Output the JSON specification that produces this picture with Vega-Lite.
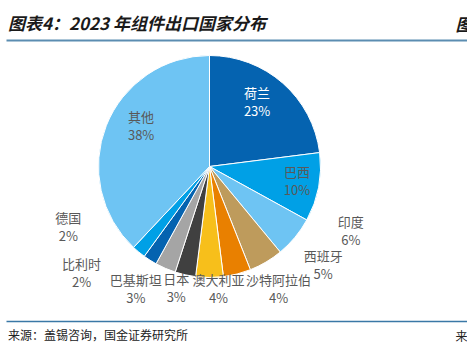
{
  "$schema": "https://vega.github.io/schema/vega-lite/v6.json",
  "padding": {"left": 6, "top": 0, "right": 0, "bottom": 0},
  "autosize": {"type": "pad"},
  "bounds": "flush",
  "spacing": 0,
  "config": {"view": {"stroke": null}, "font": "Noto Sans CJK SC"},
  "vconcat": [
    {
      "width": 461,
      "height": 40,
      "data": {"values": [{"a": 0.5}]},
      "mark": {"type": "point", "opacity": 0, "size": 0, "strokeWidth": 0},
      "encoding": {
        "x": {
          "field": "a", "type": "quantitative",
          "scale": {"domain": [0, 1], "nice": false},
          "axis": {
            "orient": "bottom", "domainColor": "#5B8DB1", "domainWidth": 2,
            "ticks": false, "labels": false, "grid": false,
            "title": "图", "titleX": 449, "titleY": -10, "titleAlign": "left",
            "titleBaseline": "alphabetic", "titleFont": "Noto Sans CJK SC",
            "titleFontSize": 17, "titleFontStyle": "italic", "titleFontWeight": "bold",
            "titleColor": "#1a1a1a"
          }
        }
      },
      "title": {
        "text": "图表4：2023 年组件出口国家分布",
        "orient": "top", "anchor": "start", "offset": -30, "dx": 2, "dy": 17,
        "baseline": "alphabetic", "font": "Noto Sans CJK SC", "fontSize": 17,
        "fontStyle": "italic", "fontWeight": "bold", "color": "#1a1a1a"
      }
    },
    {
      "width": 407,
      "height": 253,
      "data": {"values": [
        {"name": "荷兰", "value": 23},
        {"name": "巴西", "value": 10},
        {"name": "印度", "value": 6},
        {"name": "西班牙", "value": 5},
        {"name": "沙特阿拉伯", "value": 4},
        {"name": "澳大利亚", "value": 4},
        {"name": "日本", "value": 3},
        {"name": "巴基斯坦", "value": 3},
        {"name": "比利时", "value": 2},
        {"name": "德国", "value": 2},
        {"name": "其他", "value": 38}
      ]},
      "transform": [
        {"window": [{"op": "row_number", "as": "idx"}]},
        {"stack": "value", "groupby": [], "sort": [{"field": "idx", "order": "ascending"}], "as": ["v0", "v1"]},
        {"calculate": "(datum.v0 + datum.v1) / 2", "as": "mid"},
        {"calculate": "datum.name + '\\n' + datum.value + '%'", "as": "label"}
      ],
      "layer": [
        {
          "mark": {"type": "arc", "outerRadius": 111, "stroke": "white", "strokeWidth": 1},
          "encoding": {
            "theta": {"field": "v0", "type": "quantitative", "stack": null, "scale": {"domain": [0, 100]}},
            "theta2": {"field": "v1"},
            "color": {
              "field": "name", "type": "nominal", "legend": null,
              "scale": {
                "domain": ["荷兰", "巴西", "印度", "西班牙", "沙特阿拉伯", "澳大利亚", "日本", "巴基斯坦", "比利时", "德国", "其他"],
                "range": ["#0563B0", "#00A0E6", "#6EC4F3", "#BE9B5C", "#E98000", "#F7BF1B", "#404040", "#A5A5A5", "#0563B0", "#00A0E6", "#6EC4F3"]
              }
            }
          }
        },
        {
          "transform": [{"filter": "datum.name == '荷兰'"}],
          "mark": {"type": "text", "radius": 78, "dx": -4, "dy": -13.5, "color": "white", "fontSize": 13, "baseline": "middle", "lineBreak": "\n", "lineHeight": 18},
          "encoding": {"theta": {"field": "mid", "type": "quantitative", "stack": null, "scale": {"domain": [0, 100]}}, "text": {"field": "label"}}
        },
        {
          "transform": [{"filter": "datum.name == '巴西'"}],
          "mark": {"type": "text", "radius": 89, "dx": 0, "dy": -10, "color": "#595959", "fontSize": 13, "baseline": "middle", "lineBreak": "\n", "lineHeight": 18},
          "encoding": {"theta": {"field": "mid", "type": "quantitative", "stack": null, "scale": {"domain": [0, 100]}}, "text": {"field": "label"}}
        },
        {
          "transform": [{"filter": "datum.name == '其他'"}],
          "mark": {"type": "text", "radius": 80, "dx": 6, "dy": -19, "color": "#595959", "fontSize": 13, "baseline": "middle", "lineBreak": "\n", "lineHeight": 18},
          "encoding": {"theta": {"field": "mid", "type": "quantitative", "stack": null, "scale": {"domain": [0, 100]}}, "text": {"field": "label"}}
        },
        {
          "transform": [{"filter": "datum.name == '印度'"}],
          "mark": {"type": "text", "radius": 125, "dx": 45, "dy": -23, "color": "#595959", "fontSize": 13, "baseline": "middle", "lineBreak": "\n", "lineHeight": 18},
          "encoding": {"theta": {"field": "mid", "type": "quantitative", "stack": null, "scale": {"domain": [0, 100]}}, "text": {"field": "label"}}
        },
        {
          "transform": [{"filter": "datum.name == '西班牙'"}],
          "mark": {"type": "text", "radius": 125, "dx": 50, "dy": -17.5, "color": "#595959", "fontSize": 13, "baseline": "middle", "lineBreak": "\n", "lineHeight": 18},
          "encoding": {"theta": {"field": "mid", "type": "quantitative", "stack": null, "scale": {"domain": [0, 100]}}, "text": {"field": "label"}}
        },
        {
          "transform": [{"filter": "datum.name == '沙特阿拉伯'"}],
          "mark": {"type": "text", "radius": 125, "dx": 38, "dy": -7, "color": "#595959", "fontSize": 13, "baseline": "middle", "lineBreak": "\n", "lineHeight": 18},
          "encoding": {"theta": {"field": "mid", "type": "quantitative", "stack": null, "scale": {"domain": [0, 100]}}, "text": {"field": "label"}}
        },
        {
          "transform": [{"filter": "datum.name == '澳大利亚'"}],
          "mark": {"type": "text", "radius": 125, "dx": 9, "dy": -11, "color": "#595959", "fontSize": 13, "baseline": "middle", "lineBreak": "\n", "lineHeight": 18},
          "encoding": {"theta": {"field": "mid", "type": "quantitative", "stack": null, "scale": {"domain": [0, 100]}}, "text": {"field": "label"}}
        },
        {
          "transform": [{"filter": "datum.name == '日本'"}],
          "mark": {"type": "text", "radius": 125, "dx": -6, "dy": -8, "color": "#595959", "fontSize": 13, "baseline": "middle", "lineBreak": "\n", "lineHeight": 18},
          "encoding": {"theta": {"field": "mid", "type": "quantitative", "stack": null, "scale": {"domain": [0, 100]}}, "text": {"field": "label"}}
        },
        {
          "transform": [{"filter": "datum.name == '巴基斯坦'"}],
          "mark": {"type": "text", "radius": 125, "dx": -24, "dy": -0.7, "color": "#595959", "fontSize": 13, "baseline": "middle", "lineBreak": "\n", "lineHeight": 18},
          "encoding": {"theta": {"field": "mid", "type": "quantitative", "stack": null, "scale": {"domain": [0, 100]}}, "text": {"field": "label"}}
        },
        {
          "transform": [{"filter": "datum.name == '比利时'"}],
          "mark": {"type": "text", "radius": 125, "dx": -61, "dy": -7, "color": "#595959", "fontSize": 13, "baseline": "middle", "lineBreak": "\n", "lineHeight": 18},
          "encoding": {"theta": {"field": "mid", "type": "quantitative", "stack": null, "scale": {"domain": [0, 100]}}, "text": {"field": "label"}}
        },
        {
          "transform": [{"filter": "datum.name == '德国'"}],
          "mark": {"type": "text", "radius": 125, "dx": -61.5, "dy": -44, "color": "#595959", "fontSize": 13, "baseline": "middle", "lineBreak": "\n", "lineHeight": 18},
          "encoding": {"theta": {"field": "mid", "type": "quantitative", "stack": null, "scale": {"domain": [0, 100]}}, "text": {"field": "label"}}
        }
      ]
    },
    {
      "width": 461,
      "height": 28,
      "data": {"values": [{"a": 0.5}]},
      "mark": {"type": "point", "opacity": 0, "size": 0, "strokeWidth": 0},
      "encoding": {
        "x": {
          "field": "a", "type": "quantitative",
          "scale": {"domain": [0, 1], "nice": false},
          "axis": {
            "orient": "bottom", "domainColor": "#3A78A6", "domainWidth": 1.5,
            "ticks": false, "labels": false, "grid": false,
            "title": "来源", "titleX": 449, "titleY": 19, "titleAlign": "left",
            "titleBaseline": "alphabetic", "titleFont": "Noto Sans CJK SC",
            "titleFontSize": 12, "titleFontWeight": "normal", "titleColor": "#222222"
          }
        }
      },
      "title": {
        "text": "来源：盖锡咨询，国金证券研究所",
        "orient": "bottom", "anchor": "start", "offset": -2, "dx": 2,
        "baseline": "alphabetic", "font": "Noto Sans CJK SC", "fontSize": 12,
        "fontWeight": "normal", "color": "#222222"
      }
    }
  ]
}
